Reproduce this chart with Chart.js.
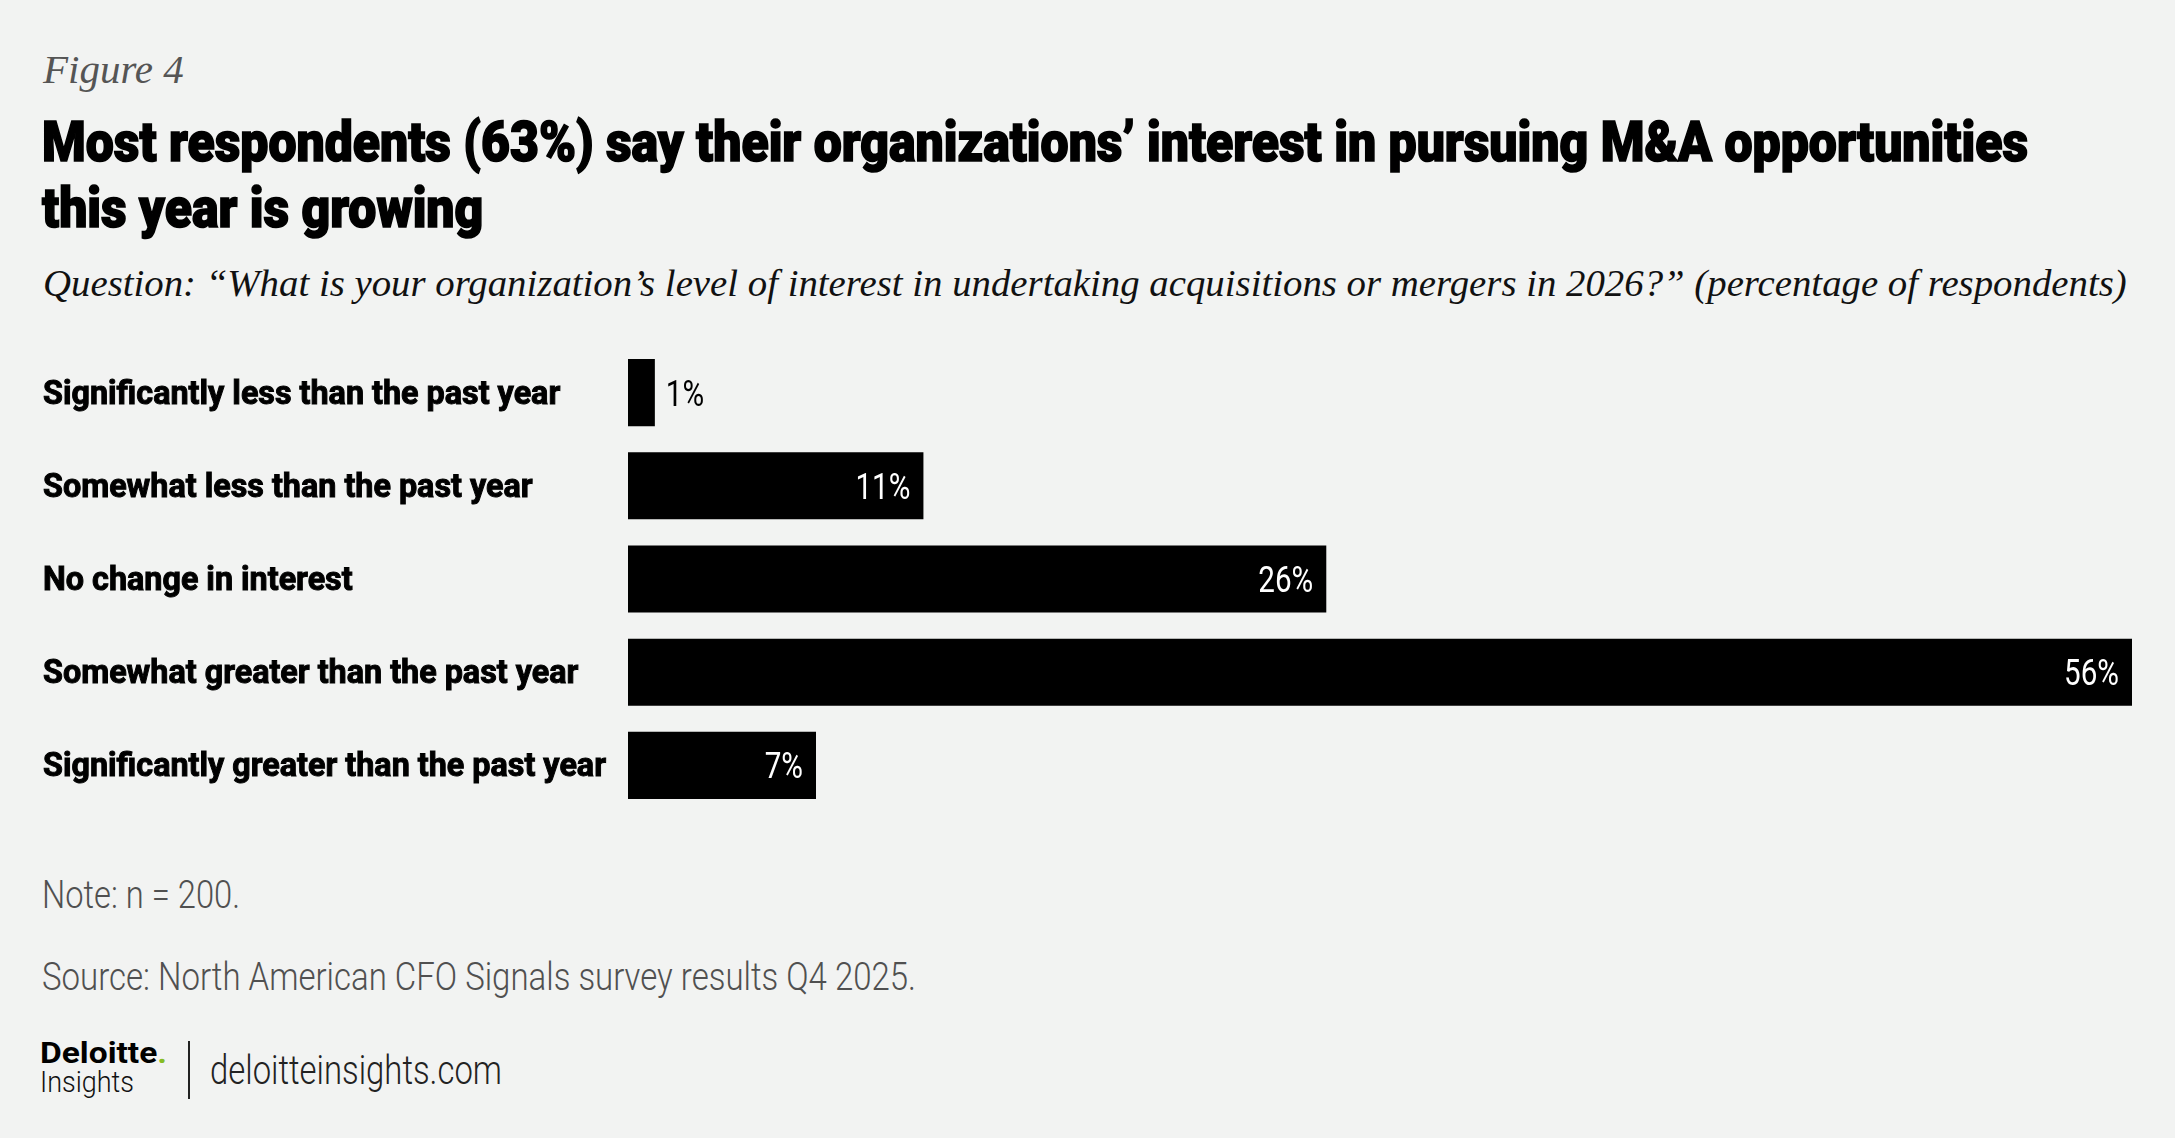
<!DOCTYPE html>
<html>
<head>
<meta charset="utf-8">
<script src="https://cdn.jsdelivr.net/npm/chart.js@4.4.1/dist/chart.umd.min.js"></script>
<style>
  html, body { margin: 0; padding: 0; }
  body {
    width: 2175px; height: 1138px; overflow: hidden;
    background: #f2f3f2; position: relative;
    font-family: Roboto, sans-serif;
  }
  .abs { position: absolute; white-space: nowrap; transform-origin: 0 0; }
  .fit { display: inline-block; }
  .serif { font-family: 'Liberation Serif', serif; font-style: italic; }
  #fig { left: 43px; top: 45px; font-size: 41px; color: #555; }
  #title { left: 42px; top: 109px; font-size: 55px; line-height: 66px; font-weight: 900; color: #000; -webkit-text-stroke: 1.6px #000; }
  #question { left: 43px; top: 260px; font-size: 38.8px; color: #111; }
  #note { left: 42px; top: 873px; font-size: 38px; font-weight: 300; color: #505050; }
  #source { left: 42px; top: 955px; font-size: 38px; font-weight: 300; color: #505050; }
  #logo1 { left: 40px; top: 1035px; font-size: 30px; font-weight: bold; color: #000; }
  .dot { color: #86bc25; }
  #logo2 { left: 40px; top: 1064px; font-size: 30px; font-weight: 300; color: #111; }
  #divider { position: absolute; left: 188px; top: 1041px; width: 2px; height: 58px; background: #222; }
  #url { left: 210px; top: 1047px; font-size: 40px; font-weight: 300; color: #222; }
  #chartBox { position: absolute; left: 43px; top: 346px; width: 2089px; height: 466px; }
</style>
</head>
<body>
<div class="abs serif" id="fig">Figure 4</div>
<div class="abs" id="title" data-w="1986"><span class="fit">Most respondents (63%) say their organizations’ interest in pursuing M&amp;A opportunities</span><br>this year is growing</div>
<div class="abs serif" id="question">Question: “What is your organization’s level of interest in undertaking acquisitions or mergers in 2026?” (percentage of respondents)</div>
<div id="chartBox"><canvas id="bars"></canvas></div>
<div class="abs" id="note" data-w="198"><span class="fit">Note: n = 200.</span></div>
<div class="abs" id="source" data-w="874"><span class="fit">Source: North American CFO Signals survey results Q4 2025.</span></div>
<div class="abs" id="logo1" data-w="127"><span class="fit">Deloitte<span class="dot">.</span></span></div>
<div class="abs" id="logo2" data-w="94"><span class="fit">Insights</span></div>
<div id="divider"></div>
<div class="abs" id="url" data-w="292"><span class="fit">deloitteinsights.com</span></div>

<script>
// Chart data
const categories = [
    'Significantly less than the past year',
    'Somewhat less than the past year',
    'No change in interest',
    'Somewhat greater than the past year',
    'Significantly greater than the past year'
];
const shares = [1, 11, 26, 56, 7];

const LABEL_FONT = 'bold 33px Roboto, sans-serif';
const VALUE_FONT = '37px Roboto, sans-serif';

// Squeeze text horizontally so it takes the narrow look of the original
function fitWidths() {
    document.querySelectorAll('[data-w]').forEach(el => {
        const span = el.querySelector('.fit');
        const w = span.getBoundingClientRect().width;
        el.style.transform = `scaleX(${el.dataset.w / w})`;
    });
}

// Category names at the left, drawn narrow
const categoryLabels = {
    id: 'categoryLabels',
    afterDraw(chart) {
        const ctx = chart.ctx;
        const yScale = chart.scales.y;
        ctx.save();
        ctx.font = LABEL_FONT;
        const squeeze = 563 / ctx.measureText(categories[4]).width;
        ctx.fillStyle = '#000';
        ctx.strokeStyle = '#000';
        ctx.lineWidth = 1;
        ctx.textAlign = 'left';
        ctx.textBaseline = 'alphabetic';
        yScale.ticks.forEach((t, i) => {
            const y = yScale.getPixelForTick(i);
            ctx.save();
            ctx.translate(yScale.left, y + 11);
            ctx.scale(squeeze, 1);
            ctx.fillText(categories[i], 0, 0);
            ctx.strokeText(categories[i], 0, 0);
            ctx.restore();
        });
        ctx.restore();
    }
};

// Percentage at the end of each bar
const valueLabels = {
    id: 'valueLabels',
    afterDatasetsDraw(chart) {
        const ctx = chart.ctx;
        const meta = chart.getDatasetMeta(0);
        ctx.save();
        ctx.font = VALUE_FONT;
        ctx.textBaseline = 'alphabetic';
        meta.data.forEach((bar, i) => {
            const text = shares[i] + '%';
            ctx.save();
            if (shares[i] < 5) {
                ctx.fillStyle = '#000';
                ctx.translate(bar.x + 11, bar.y + 13);
                ctx.textAlign = 'left';
            } else {
                ctx.fillStyle = '#fff';
                ctx.translate(bar.x - 13, bar.y + 13);
                ctx.textAlign = 'right';
            }
            ctx.scale(0.8, 1);
            ctx.fillText(text, 0, 0);
            ctx.restore();
        });
        ctx.restore();
    }
};

function drawChart() {
    new Chart(document.getElementById('bars'), {
        type: 'bar',
        data: {
            labels: categories,
            datasets: [{
                data: shares,
                backgroundColor: '#000',
                borderWidth: 0,
                categoryPercentage: 1,
                barPercentage: 0.72
            }]
        },
        options: {
            indexAxis: 'y',
            responsive: true,
            maintainAspectRatio: false,
            animation: false,
            layout: { padding: 0 },
            plugins: {
                legend: { display: false },
                tooltip: { enabled: false }
            },
            scales: {
                x: {
                    display: false,
                    min: 0,
                    max: 56
                },
                y: {
                    grid: { display: false },
                    border: { display: false },
                    ticks: { display: false },
                    afterFit(scale) {
                        scale.width = 585;
                    }
                }
            }
        },
        plugins: [valueLabels, categoryLabels]
    });
}

document.fonts.ready.then(() => {
    fitWidths();
    drawChart();
});
</script>
</body>
</html>
